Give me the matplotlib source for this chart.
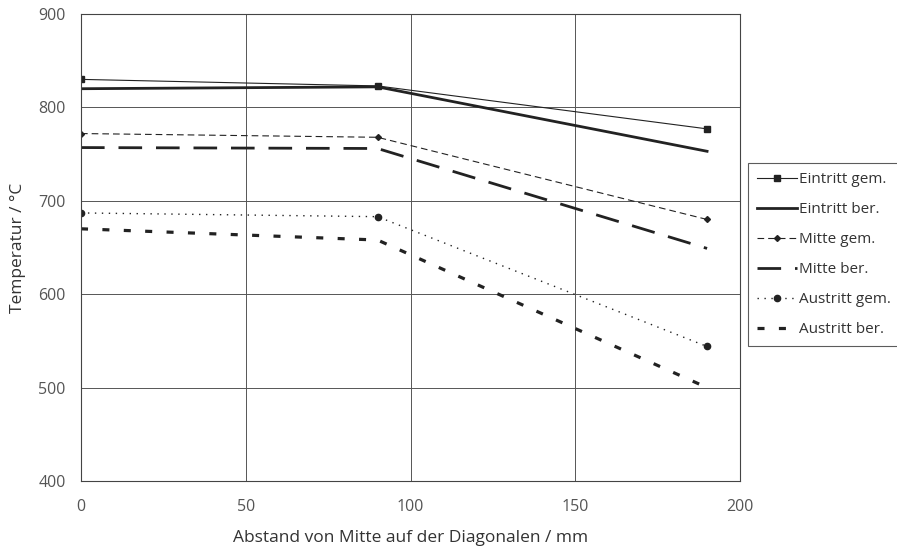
import matplotlib
matplotlib.use("Agg")
import matplotlib.pyplot as plt

plt.rcParams['font.family'] = ['Open Sans', 'DejaVu Sans']

# Messpunkte entlang der Diagonalen
abstand = [0, 90, 190]

eintritt_gem = [830, 823, 777]
eintritt_ber = [820, 822, 753]
mitte_gem = [772, 768, 680]
mitte_ber = [757, 756, 649]
austritt_gem = [687, 683, 544]
austritt_ber = [670, 658, 500]

ink = '#222222'

fig = plt.figure(figsize=(8.97, 5.47), dpi=100)
ax = fig.add_axes([0.0903, 0.1207, 0.7347, 0.8537])

ax.plot(abstand, eintritt_gem, color=ink, lw=0.8, marker='s', ms=4.5,
        label='Eintritt gem.')
ax.plot(abstand, eintritt_ber, color=ink, lw=2.0, label='Eintritt ber.')
ax.plot(abstand, mitte_gem, color=ink, lw=0.8, dashes=(6, 3.6), marker='D',
        ms=3, label='Mitte gem.')
ax.plot(abstand, mitte_ber, color=ink, lw=2.0, dashes=(8.5, 5),
        label='Mitte ber.')
ax.plot(abstand, austritt_gem, color=ink, lw=1.0, dashes=(1, 4), marker='o',
        ms=4.5, label='Austritt gem.')
ax.plot(abstand, austritt_ber, color=ink, lw=2.3, dashes=(2.2, 4.5),
        label='Austritt ber.')

ax.set_xlim(0, 200)
ax.set_ylim(400, 900)
ax.set_xticks([0, 50, 100, 150, 200])
ax.set_yticks([400, 500, 600, 700, 800, 900])
ax.grid(True, color='#555555', lw=0.7)
for s in ax.spines.values():
    s.set_color('#444444')
    s.set_linewidth(0.8)
ax.tick_params(length=0, labelsize=11.5, labelcolor='#555555', pad=11)
ax.tick_params(axis='x', pad=13)

ax.set_xlabel('Abstand von Mitte auf der Diagonalen / mm', fontsize=12.5,
              color='#333333', labelpad=11)
ax.set_ylabel('Temperatur / °C', fontsize=12.5, color='#333333', labelpad=9)

leg = fig.legend(loc='upper left', bbox_to_anchor=(0.834, 0.702),
                 fontsize=11, frameon=True, fancybox=False,
                 handlelength=2.6, handletextpad=0.1, labelspacing=0.98,
                 borderpad=0.6, borderaxespad=0, labelcolor='#333333')
leg.get_frame().set_edgecolor('#333333')
leg.get_frame().set_linewidth(0.8)

fig.savefig('out.png', dpi=100)
